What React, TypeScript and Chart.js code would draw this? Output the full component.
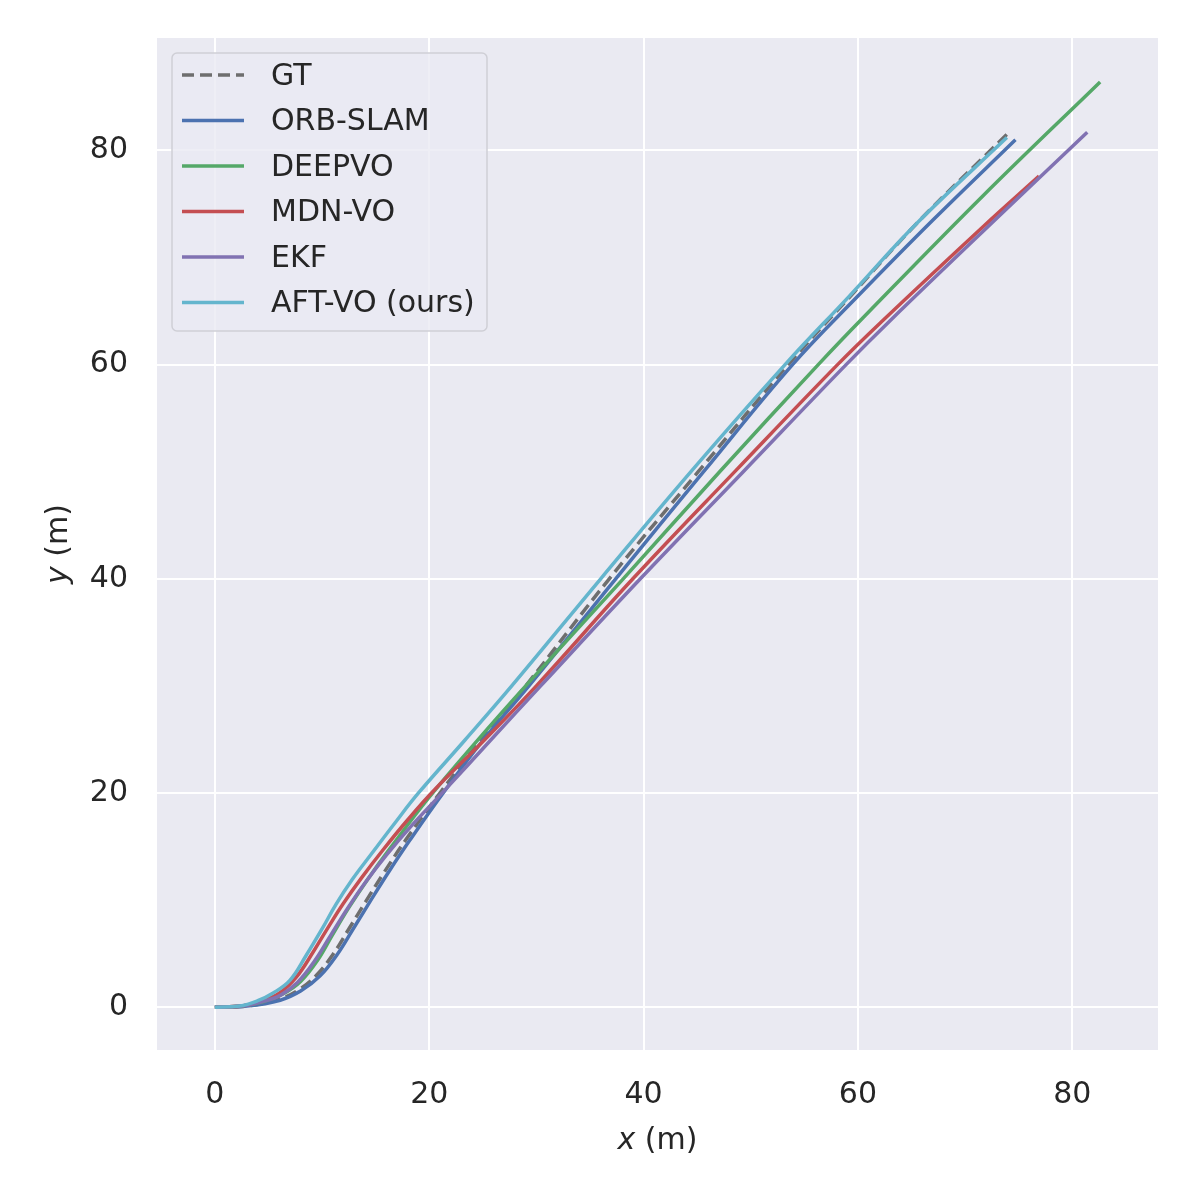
import { useEffect, useRef } from "react"
import { Chart, registerables } from "chart.js"

Chart.register(...registerables)

const seriesNames = ["GT", "ORB-SLAM", "DEEPVO", "MDN-VO", "EKF", "AFT-VO (ours)"]
const seriesColors = ["#6e6e6e", "#4c72b0", "#55a868", "#c44e52", "#8172b2", "#64b5cd"]

// trajectories (metres)
const gtX = [0, 3, 6, 7.8, 9.5, 11.0, 12.5, 14.1, 15.8, 17.8, 21.0, 24.8, 29.0, 36.8, 45.1, 53.5, 59.4, 65.6, 74.0]
const gtY = [0, 0.1, 0.75, 1.6, 3.0, 4.9, 7.3, 9.9, 12.6, 15.6, 20.0, 24.9, 30.0, 40.0, 50.0, 60.0, 66.5, 73.3, 81.6]

const orbX = [0, 3, 6.1, 8.0, 9.8, 11.4, 12.9, 14.5, 16.2, 18.2, 21.3, 25.0, 29.3, 37.4, 45.6, 53.9, 60.0, 67.0, 74.7]
const orbY = [0, 0.1, 0.65, 1.5, 2.9, 4.9, 7.3, 9.9, 12.6, 15.6, 20.0, 24.9, 30.0, 40.0, 50.0, 60.0, 66.4, 73.5, 81.0]

const deepX = [0, 2.5, 4.5, 6.3, 8.0, 9.6, 11.0, 12.5, 14.3, 16.4, 20.0, 24.4, 29.0, 38.1, 47.1, 56.3, 60.5, 71.7, 82.6]
const deepY = [0, 0.1, 0.5, 1.2, 2.4, 4.4, 6.8, 9.3, 12.0, 14.9, 19.6, 24.8, 30.0, 40.0, 50.0, 60.0, 64.4, 75.8, 86.4]

const mdnX = [0, 2.5, 4.2, 6.0, 7.6, 9.2, 10.6, 12.0, 13.7, 15.7, 18.0, 20.5, 25.2, 30.0, 39.0, 48.6, 58.1, 62.3, 71.7, 76.9]
const mdnY = [0, 0.1, 0.5, 1.3, 2.8, 5.2, 7.5, 9.7, 12.1, 14.7, 17.5, 20.3, 25.0, 30.0, 40.0, 50.1, 60.0, 64.1, 72.9, 77.6]

const ekfX = [0, 2.5, 4.4, 6.1, 7.7, 9.3, 10.8, 12.3, 14.0, 16.0, 18.4, 21.3, 25.7, 30.4, 39.7, 49.3, 58.9, 63.0, 73.2, 81.4]
const ekfY = [0, 0.1, 0.5, 1.1, 2.3, 4.3, 6.7, 9.1, 11.6, 14.2, 17.0, 20.1, 24.9, 30.0, 40.0, 50.0, 60.0, 64.1, 73.9, 81.7]

const aftX = [0, 2.3, 4.0, 5.4, 7.0, 8.5, 10.0, 11.3, 12.8, 14.6, 16.8, 19.0, 23.3, 27.7, 36.0, 44.5, 53.2, 59.2, 65.5, 73.9]
const aftY = [0, 0.1, 0.6, 1.3, 2.5, 4.8, 7.3, 9.6, 11.9, 14.3, 17.2, 20.0, 24.9, 30.0, 40.0, 50.1, 60.0, 66.4, 73.2, 81.2]

const seriesX = [gtX, orbX, deepX, mdnX, ekfX, aftX]
const seriesY = [gtY, orbY, deepY, mdnY, ekfY, aftY]

const xTicks = [0, 20, 40, 60, 80]
const yTicks = [0, 20, 40, 60, 80]

const FONT = "DejaVu Sans"
const TEXT = "#262626"

const backdrop = {
  id: "backdrop",
  beforeDraw(chart: any) {
    const { ctx, chartArea: a } = chart
    ctx.save()
    ctx.fillStyle = "#eaeaf2"
    ctx.fillRect(a.left, a.top, a.right - a.left, a.bottom - a.top)
    ctx.restore()
  },
}

const titles = {
  id: "titles",
  afterDraw(chart: any) {
    const { ctx, chartArea: a } = chart
    const drawTitle = (v: string) => {
      ctx.font = `italic 30px "${FONT}"`
      const w1 = ctx.measureText(v).width
      ctx.font = `30px "${FONT}"`
      const w2 = ctx.measureText(" (m)").width
      const start = -(w1 + w2) / 2
      ctx.font = `italic 30px "${FONT}"`
      ctx.fillText(v, start, 0)
      ctx.font = `30px "${FONT}"`
      ctx.fillText(" (m)", start + w1, 0)
    }
    ctx.save()
    ctx.fillStyle = TEXT
    ctx.textAlign = "left"
    ctx.textBaseline = "middle"
    ctx.translate((a.left + a.right) / 2, 1141)
    drawTitle("x")
    ctx.restore()
    ctx.save()
    ctx.fillStyle = TEXT
    ctx.textAlign = "left"
    ctx.textBaseline = "middle"
    ctx.translate(59, (a.top + a.bottom) / 2)
    ctx.rotate(-Math.PI / 2)
    drawTitle("y")
    ctx.restore()
  },
}

const legendBox = {
  id: "legendBox",
  afterDraw(chart: any) {
    const { ctx, chartArea: a } = chart
    const x0 = a.left + 15
    const y0 = a.top + 15
    const w = 315
    const h = 278
    ctx.save()
    ctx.beginPath()
    ctx.roundRect(x0, y0, w, h, 5)
    ctx.fillStyle = "rgba(234,234,242,0.8)"
    ctx.fill()
    ctx.strokeStyle = "#cfcfd6"
    ctx.lineWidth = 1.5
    ctx.stroke()
    ctx.font = `30px "${FONT}"`
    ctx.textBaseline = "middle"
    ctx.textAlign = "left"
    seriesNames.forEach((name, i) => {
      const cy = y0 + 22 + i * 45.5
      ctx.beginPath()
      ctx.setLineDash(i === 0 ? [12, 6] : [])
      ctx.strokeStyle = seriesColors[i]
      ctx.lineWidth = 3.5
      ctx.moveTo(x0 + 10, cy)
      ctx.lineTo(x0 + 72, cy)
      ctx.stroke()
      ctx.setLineDash([])
      ctx.fillStyle = TEXT
      ctx.fillText(name, x0 + 99, cy + 2)
    })
    ctx.restore()
  },
}

export default function App() {
  const chartRef = useRef<HTMLCanvasElement>(null)
  const chartInstance = useRef<Chart | null>(null)

  useEffect(() => {
    if (!chartRef.current) return
    if (chartInstance.current) chartInstance.current.destroy()

    const datasets = seriesNames.map((name, i) => ({
      label: name,
      data: seriesX[i].map((x, j) => ({ x, y: seriesY[i][j] })),
      borderColor: seriesColors[i],
      backgroundColor: seriesColors[i],
      borderWidth: 3.5,
      borderDash: i === 0 ? [12, 6] : [],
      pointRadius: 0,
      showLine: true,
      fill: false,
      tension: 0.4,
      order: seriesNames.length - 1 - i,
    }))

    chartInstance.current = new Chart(chartRef.current, {
      type: "scatter",
      data: { datasets },
      options: {
        animation: false,
        responsive: true,
        maintainAspectRatio: false,
        layout: { padding: { top: 38, right: 38, left: 0, bottom: 0 } },
        plugins: {
          legend: { display: false },
          tooltip: { enabled: false },
        },
        scales: {
          x: {
            type: "linear",
            min: -5.4,
            max: 88,
            afterBuildTicks: (s: any) => {
              s.ticks = xTicks.map((v) => ({ value: v }))
            },
            afterFit: (s: any) => {
              s.height = 140
              s.paddingLeft = 0
              s.paddingRight = 0
            },
            border: { display: false },
            grid: { color: "#ffffff", lineWidth: 2, drawTicks: false },
            ticks: { color: TEXT, font: { family: FONT, size: 30 }, padding: 27, maxRotation: 0 },
          },
          y: {
            type: "linear",
            min: -4.0,
            max: 90.5,
            afterBuildTicks: (s: any) => {
              s.ticks = yTicks.map((v) => ({ value: v }))
            },
            afterFit: (s: any) => {
              s.width = 157
              s.paddingTop = 0
              s.paddingBottom = 0
            },
            border: { display: false },
            grid: { color: "#ffffff", lineWidth: 2, drawTicks: false },
            ticks: { color: TEXT, font: { family: FONT, size: 30 }, padding: 29 },
          },
        },
      },
      plugins: [backdrop, titles, legendBox],
    })

    return () => {
      if (chartInstance.current) {
        chartInstance.current.destroy()
        chartInstance.current = null
      }
    }
  }, [])

  return (
    <div style={{ position: "absolute", left: 0, top: 0, width: 1196, height: 1190, background: "#ffffff" }}>
      <canvas ref={chartRef} />
    </div>
  )
}
